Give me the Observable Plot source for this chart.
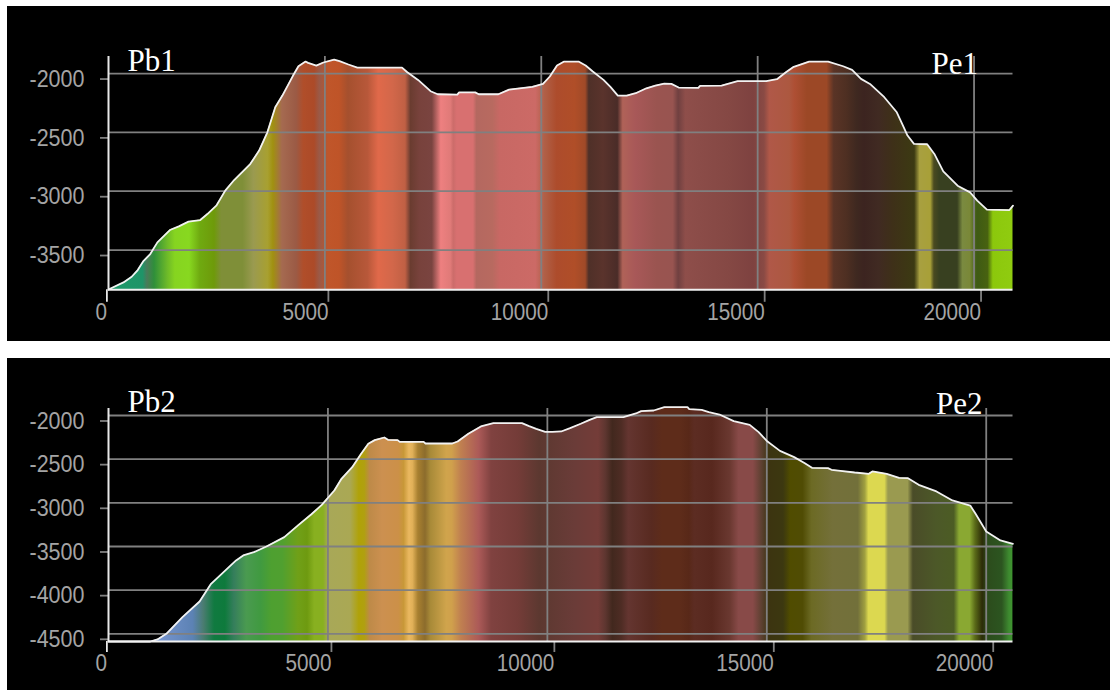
<!DOCTYPE html>
<html>
<head>
<meta charset="utf-8">
<script src="https://cdn.jsdelivr.net/npm/d3@7"></script>
<script src="https://cdn.jsdelivr.net/npm/@observablehq/plot@0.6"></script>
<style>
html,body{margin:0;padding:0;background:#fff;width:1110px;height:690px;overflow:hidden}
.panel{position:absolute;left:7px;background:#000}
.panel svg{display:block}
</style>
</head>
<body>
<div class="panel" id="p1" style="top:6px"></div>
<div class="panel" id="p2" style="top:358px"></div>
<script>
const distance1 = [0,346,536,676,800,965,1130,1419,1625,1848,2120,2285,2491,2698,2904,3275,3481,3671,3853,4018,4265,4389,4554,4612,4802,4966,5214,5338,5544,5750,6782,6905,7153,7442,7607,8060,8102,8473,8555,9009,9257,9793,10040,10198,10364,10529,10860,11025,11190,11438,11603,11769,11975,12182,12430,12636,12843,13008,13174,13628,13670,14166,14537,15198,15446,15653,15818,16190,16628,16975,17182,17388,17595,17926,18215,18339,18463,18612,18917,19083,19289,19620,19909,20074,20298,20818,20900];
const elevation1 = [-3835,-3775,-3727,-3670,-3597,-3534,-3435,-3330,-3299,-3259,-3245,-3194,-3123,-2995,-2905,-2769,-2655,-2499,-2286,-2187,-2017,-1938,-1898,-1909,-1932,-1906,-1881,-1895,-1923,-1949,-1949,-1989,-2054,-2150,-2176,-2179,-2160,-2160,-2176,-2176,-2136,-2113,-2088,-2025,-1932,-1898,-1898,-1932,-1983,-2054,-2116,-2187,-2187,-2167,-2125,-2102,-2085,-2088,-2119,-2122,-2105,-2102,-2065,-2065,-2048,-1989,-1946,-1898,-1898,-1938,-1969,-2045,-2088,-2201,-2329,-2428,-2527,-2598,-2601,-2683,-2831,-2953,-3010,-3080,-3157,-3160,-3123];
const stopDistance1 = [0,800,900,1064,1378,1543,1873,2120,2450,2615,3110,3358,3688,3812,4018,4348,4513,4760,4884,5090,5338,5544,5998,6245,6575,6864,6988,7194,7483,7689,7912,7978,8060,8432,8514,8885,9050,9875,10082,10364,10777,11025,11108,11438,11769,11893,12182,12678,13050,13174,13339,14331,14909,15157,15281,15736,15859,16149,16603,16768,17058,17306,17471,17802,18132,18628,18752,19000,19083,19207,19620,19744,19909,20074,20322,20446,20900];
const stopColor1 = ["#1b9a6a","#1f9468","#4a7a5a","#2f8f3a","#6fbb28","#86d420","#88d820","#6faa10","#6e9a0a","#7f8f38","#7f8f38","#9a9a50","#a8a030","#a09010","#a56a50","#9b5a45","#b04e2a","#ac4a28","#9a5a48","#c0562a","#bf5428","#a5502e","#b8583a","#e0694a","#d2674a","#c06044","#6a3c30","#78423c","#7a4440","#ee8080","#e07a78","#cc6c6a","#d87070","#d87070","#b46860","#b86a60","#c86864","#cc6a66","#b06048","#ad4c2c","#b04e28","#a04a28","#4f3028","#5a332c","#4a2c28","#b06258","#a85858","#9a5450","#985450","#704040","#8e4e4a","#854844","#7e4240","#8a4a44","#b05848","#ac5840","#ae4f34","#9c4826","#9c4826","#5a3426","#4e2f22","#3e2820","#3c2420","#402a22","#3e3018","#3c3a12","#a8a040","#a8a038","#4a4a20","#384020","#384020","#7a8a40","#7a8838","#3e5a14","#486210","#8cc80c","#90cc10"];

const distance2 = [0,953,1116,1319,1686,2076,2337,2622,2907,3070,3314,3599,4006,4332,4617,4861,5146,5309,5553,5757,5920,6067,6286,6368,6588,6637,7182,7223,7834,7956,8200,8485,8770,9421,9584,9747,9951,10113,10316,10518,10762,10964,11126,11734,12018,12139,12423,12666,13193,13233,13517,13679,13922,14246,14611,14814,15016,15300,15624,15867,16029,16394,16475,16678,17002,17326,17407,17731,18015,18218,18461,18866,19230,19636,19757,20000,20324,20608];
const elevation2 = [-4588,-4588,-4565,-4500,-4309,-4130,-3928,-3794,-3660,-3603,-3565,-3500,-3393,-3252,-3134,-3023,-2859,-2725,-2592,-2439,-2324,-2282,-2252,-2279,-2282,-2302,-2302,-2321,-2321,-2298,-2210,-2126,-2088,-2088,-2122,-2153,-2187,-2187,-2183,-2145,-2095,-2050,-2019,-2019,-1977,-1950,-1943,-1905,-1905,-1927,-1935,-1962,-1989,-2065,-2107,-2191,-2298,-2405,-2477,-2546,-2599,-2603,-2622,-2634,-2653,-2668,-2641,-2668,-2714,-2718,-2794,-2870,-2973,-3031,-3126,-3328,-3431,-3470];
const stopDistance2 = [0,1034,1360,1930,2174,2418,2663,2866,3151,3477,3721,3966,4332,4536,4699,4902,5024,5513,5716,5839,5961,6246,6612,6734,6857,6938,7060,7223,7345,7711,7834,8037,8444,8730,9340,9829,10600,11167,11329,11491,11694,11856,12382,12626,13031,13233,13355,13760,14165,14368,14692,14895,15057,15381,15543,15827,16029,16515,17083,17245,17326,17691,17772,18218,18339,18866,19271,19392,19636,19757,19919,20041,20365,20527,20608];
const stopColor2 = ["#7a9ad8","#7a9ad8","#7090c8","#5c82b4","#4a7c70","#107a40","#0e7a3c","#357e5c","#4a9a50","#409a40","#4ea030","#50a030","#70a018","#6e9a10","#88b020","#88b020","#a8a858","#aaa854","#b0a208","#b0a010","#be8a48","#cc9050","#cc9048","#c89838","#eab860","#e0b058","#a88030","#8c6c2c","#a88a38","#d0a44c","#d0a04c","#c08050","#ac5a58","#804240","#743c38","#5c3830","#6a3c38","#743c38","#5e3630","#42281e","#4e2c24","#643530","#582a20","#5e2c1a","#5e2c1a","#582818","#5c2c22","#58281e","#6a3830","#884a48","#884a48","#5c4030","#3c3410","#3c3810","#504c00","#504c04","#6c6a24","#74703a","#72703a","#a0a040","#dcd850","#dcd850","#9a9a50","#9a9a50","#4a4c28","#4c5828","#4c5c24","#8aa832","#8aa832","#5a6a18","#2c2c08","#2c4c1c","#2c5520","#3e8a30","#3e9630"];

const xTicks = [5000,10000,15000,20000];
const yTicks1 = [-2000,-2500,-3000,-3500];
const yTicks2 = [-2000,-2500,-3000,-3500,-4000,-4500];

const tickFont = "'Liberation Sans',sans-serif";
const gray = "#808080", label = "#a4a4a4";
const fmt = d => String(d);

function panel(o){
  const rows = o.dist.map((d,i)=>({d, e:o.elev[i]}));
  const maxD = d3.max(o.dist);
  const id = o.id;
  const gradient = () => {
    const defs = d3.create("svg:defs");
    const g = defs.append("linearGradient").attr("id",id).attr("x1",0).attr("x2",1).attr("y1",0).attr("y2",0);
    o.stopD.forEach((d,i)=> g.append("stop").attr("offset",d/maxD).attr("stop-color",o.stopC[i]));
    return defs.node();
  };
  const base = o.yDomain[0];
  const xAxis = (ticks,dx,stroke) => Plot.axisX({ticks,tickSize:o.tickX,tickPadding:o.padX,tickFormat:fmt,label:null,fontSize:24,stroke,fill:label,textAnchor:"end",dx,strokeWidth:1.8});
  const chart = Plot.plot({
    width:1103, height:o.height,
    marginLeft:101, marginRight:97.5, marginTop:50, marginBottom:o.marginBottom,
    style:{background:"#000",color:label,fontFamily:tickFont},
    x:{domain:[0,o.xMax]},
    y:{domain:o.yDomain},
    marks:[
      gradient,
      Plot.areaY(rows,{x:"d",y1:()=>base,y2:"e",fill:`url(#${id})`}),
      Plot.gridX(xTicks,{stroke:gray,strokeOpacity:1,strokeWidth:1.8}),
      Plot.gridY(o.yTicks,{stroke:gray,strokeOpacity:1,strokeWidth:1.8}),
      Plot.axisY({ticks:o.yTicks,tickSize:8,tickPadding:16,tickFormat:fmt,label:null,fontSize:24,stroke:gray,fill:label,dy:5.5,strokeWidth:1.8}),
      xAxis([5000],3.5,gray),
      xAxis([10000,15000,20000],7,gray),
      xAxis([0],-1.6,"#e8e8e8"),
      Plot.ruleX([0],{stroke:"#e8e8e8",strokeWidth:2}),
      Plot.ruleY([base],{stroke:"#f0f0f0",strokeWidth:2}),
      Plot.line(rows,{x:"d",y:"e",stroke:"#f2f2f2",strokeWidth:1.8}),
      Plot.text([o.startLabel],{frameAnchor:"top-left",dx:19,dy:o.startDy,textAnchor:"start",lineAnchor:"top",fill:"#fff",fontSize:31,fontFamily:"'Liberation Serif',serif"}),
      Plot.text([o.endLabel],{frameAnchor:"top-right",dx:o.endDx,dy:o.endDy,textAnchor:"end",lineAnchor:"top",fill:"#fff",fontSize:31,fontFamily:"'Liberation Serif',serif"})
    ]
  });
  // The reference's tick labels use a narrow bitmap-style face: condense the glyphs.
  chart.querySelectorAll('[aria-label="y-axis tick label"] text').forEach(t => {
    t.setAttribute("textLength", t.textContent.length * 11);
    t.setAttribute("lengthAdjust", "spacingAndGlyphs");
  });
  chart.querySelectorAll('[aria-label="x-axis tick label"] text').forEach(t => {
    t.setAttribute("textLength", t.textContent.length * 11.5);
    t.setAttribute("lengthAdjust", "spacingAndGlyphs");
  });
  return chart;
}

document.getElementById("p1").append(panel({
  id:"g1",dist:distance1,elev:elevation1,stopD:stopDistance1,stopC:stopColor1,
  height:335,marginBottom:51.7,xMax:20900,yDomain:[-3838,-1855],yTicks:yTicks1,tickX:12.5,padX:1,
  startLabel:"Pb1",endLabel:"Pe1",startDy:-8,endDx:-35,endDy:-5
}));
document.getElementById("p2").append(panel({
  id:"g2",dist:distance2,elev:elevation2,stopD:stopDistance2,stopC:stopColor2,
  height:332,marginBottom:49,xMax:20610,yDomain:[-4588,-1920],yTicks:yTicks2,tickX:11,padX:1,
  startLabel:"Pb2",endLabel:"Pe2",startDy:-19,endDx:-30.5,endDy:-17
}));
</script>
</body>
</html>
